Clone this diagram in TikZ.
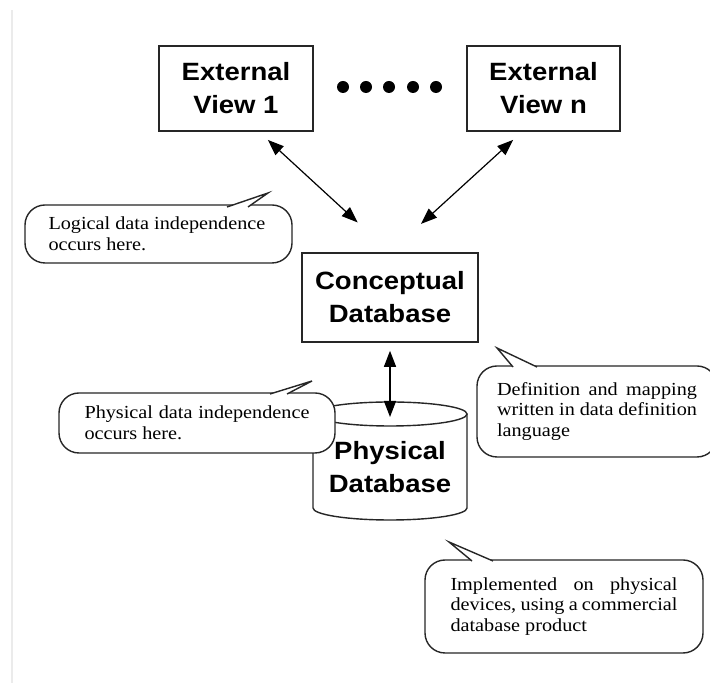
\documentclass[tikz,border=0pt]{standalone}
\usepackage{fontspec}
\setmainfont{Liberation Serif}[FakeStretch=1.1]
\setsansfont{Liberation Sans}[FakeStretch=1.1]
\usetikzlibrary{arrows.meta,calc}

\tikzset{
  level/.style={draw=black!85, line width=0.8pt, fill=white, minimum height=42.5pt,
    align=center, font=\sffamily\bfseries\fontsize{12.5}{16.5}\selectfont},
  bubble/.style={draw=black!85, line width=0.7pt, fill=white, rounded corners=10pt,
    inner sep=2pt, align=justify, font=\fontsize{9.2}{10.25}\selectfont},
  tail/.style={draw=black!85, line width=0.7pt, fill=white},
  link/.style={{Triangle[length=8pt,width=6pt]}-{Triangle[length=8pt,width=6pt]},
    line width=0.6pt},
}

\begin{document}
\begin{tikzpicture}[x=0.5pt, y=0.5pt]
\useasboundingbox (0,0) rectangle (710,683);
% page rule on the left
\draw[black!8, line width=0.6pt] (12,673) -- (12,0);
% external views
\node[level, minimum width=77pt] (ev1) at (236,594.5) {External\\View 1};
\node[level, minimum width=76.5pt] (evn) at (543.5,594.5) {External\\View n};
\foreach \x in {343,366,389,413,436}
  \fill (\x,596) circle (3pt);
% conceptual level
\node[level, minimum width=88pt, minimum height=44.5pt] (concept) at (390,385.5) {Conceptual\\Database};
% physical database (cylinder)
\draw[draw=black!85, line width=0.7pt, fill=white] (313,269) -- (313,175)
  arc[start angle=180, end angle=360, x radius=38.5pt, y radius=6pt] -- (467,269);
\draw[draw=black!85, line width=0.7pt, fill=white] (390,269) ellipse [x radius=38.5pt, y radius=6pt];
\node[align=center, font=\sffamily\bfseries\fontsize{12.5}{16.5}\selectfont] (physical) at (390,216) {Physical\\Database};
\coordinate (phys top) at (390,266);
% mappings
\coordinate (ev1 foot) at ($(ev1.south)+(23,0)$);
\coordinate (evn foot) at ($(evn.south)+(-21.5,0)$);
\draw[link, shorten <=6pt, shorten >=22pt] (ev1 foot) -- (concept.north);
\draw[link, shorten <=6pt, shorten >=21pt] (evn foot) -- (concept.north);
\draw[link, shorten <=4pt] (concept.south) -- (phys top);
% call-outs
\node[bubble, minimum width=133.5pt, minimum height=29pt, text width=110pt] (logical) at (158.5,449)
  {Logical data independence\\occurs here.};
\filldraw[tail] (227,476) -- (268,490) -- (248,476);
\node[bubble, minimum width=138pt, minimum height=30pt, text width=112.5pt] (physind) at (197,260)
  {Physical data independence\linebreak occurs here.};
\filldraw[tail] (270,289) -- (312,302) -- (287,289);
\node[bubble, minimum width=120pt, minimum height=45.5pt, text width=100pt] (ddl) at (597,271.5)
  {Definition and mapping\linebreak written in data definition\linebreak language};
\filldraw[tail] (513,316) -- (497,335) -- (537,316);
\node[bubble, minimum width=139pt, minimum height=46.5pt, text width=113.5pt] (product) at (564,76.5)
  {Implemented on physical\linebreak devices, using a commercial\linebreak database product};
\filldraw[tail] (472,122) -- (449,141) -- (493,122);
\end{tikzpicture}
\end{document}
